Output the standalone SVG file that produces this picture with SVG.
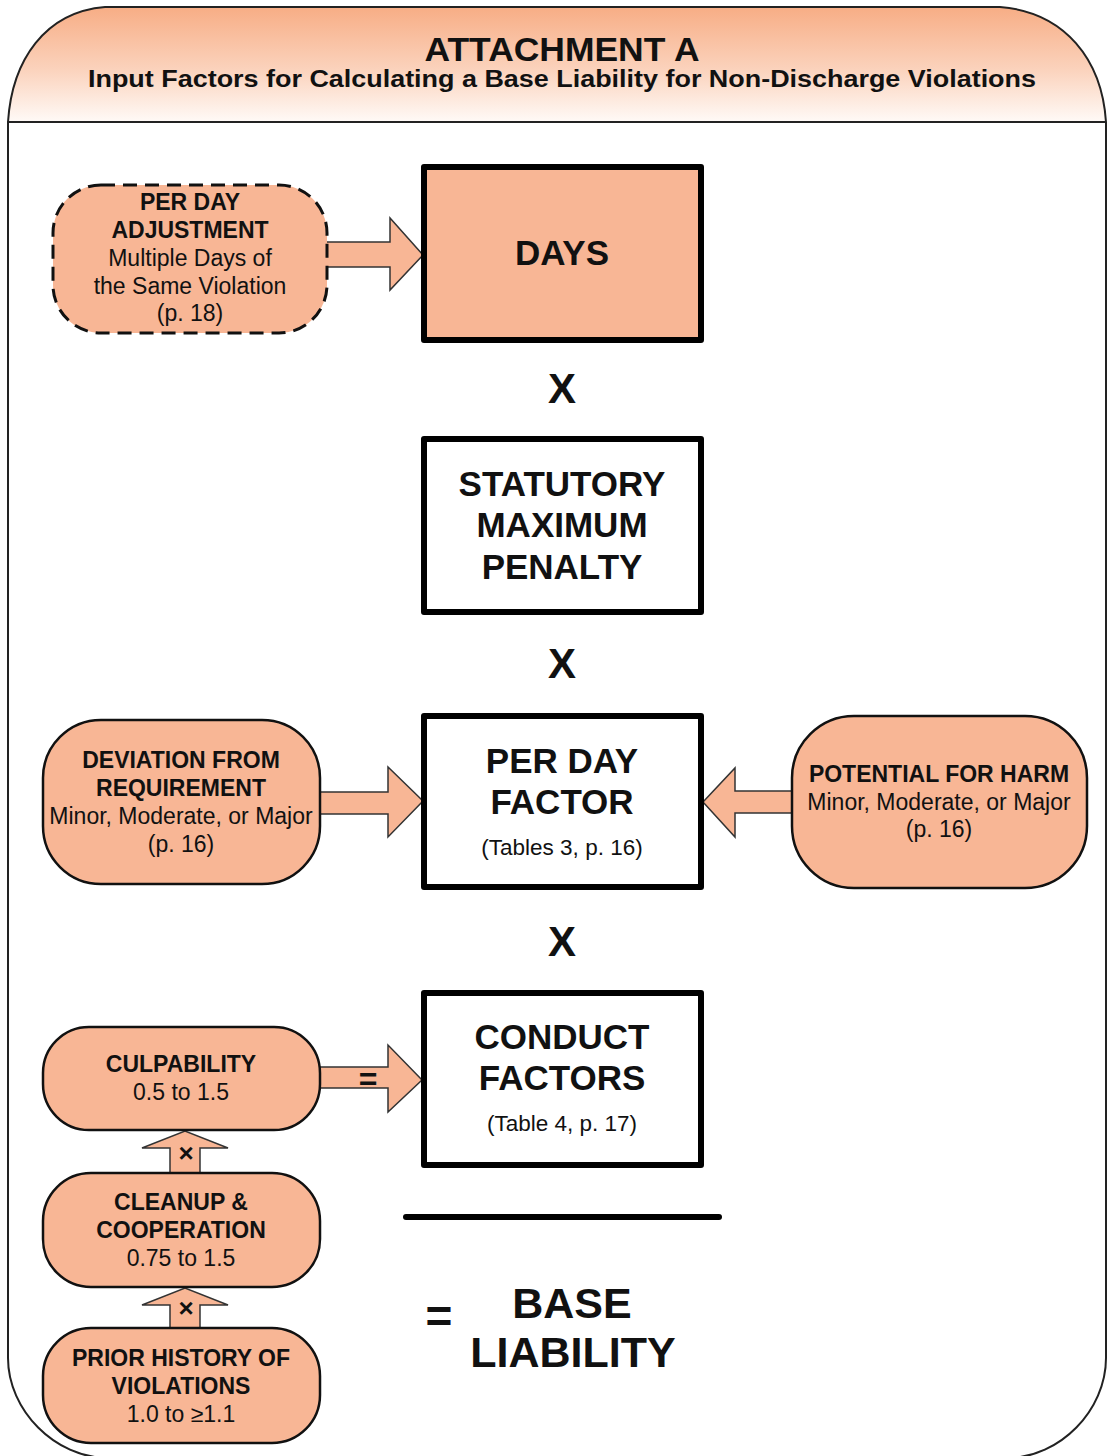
<svg xmlns="http://www.w3.org/2000/svg" width="1109" height="1456" viewBox="0 0 1109 1456">
<defs>
<linearGradient id="hdr" x1="0" y1="0" x2="0" y2="1">
<stop offset="0" stop-color="#f7ad85"/>
<stop offset="0.55" stop-color="#fbd3bd"/>
<stop offset="1" stop-color="#fffaf7"/>
</linearGradient>
<style>
text{font-family:"Liberation Sans",Arial,sans-serif;fill:#111;text-anchor:middle}
.b{font-weight:bold}
.nt{font-size:23px}
.bt{font-size:35px;font-weight:bold}
.sm{font-size:22.5px}
.x{font-size:42px;font-weight:bold}
.pill{fill:#f8b695;stroke:#111;stroke-width:2.5}
.dash{fill:#f8b695;stroke:#111;stroke-width:3;stroke-dasharray:14 8}
.box{fill:#fff;stroke:#000;stroke-width:6;stroke-linejoin:round}
.arr{fill:#f8b695;stroke:#333;stroke-width:1.5;stroke-linejoin:miter}
</style>
</defs>
<g id="frame">
<path d="M8 122 C12 60 45 12 105 7 L1000 7 C1065 12 1102 60 1106 122 Z" fill="url(#hdr)" stroke="none"/>
<path d="M8 1358 L8 122 C12 60 45 12 105 7 L1000 7 C1065 12 1102 60 1106 122 L1106 1358 C1106 1410 1060 1458 1007 1458 L108 1458 C55 1458 8 1410 8 1358 Z" fill="none" stroke="#222" stroke-width="2"/>
<line x1="8" y1="122" x2="1106" y2="122" stroke="#222" stroke-width="2"/>
<text class="b" x="562" y="61" font-size="34" textLength="275" lengthAdjust="spacingAndGlyphs">ATTACHMENT A</text>
<text class="b" x="562" y="87" font-size="23" textLength="948" lengthAdjust="spacingAndGlyphs">Input Factors for Calculating a Base Liability for Non-Discharge Violations</text>
</g>
<g id="connectors">
<polygon class="arr" points="325,242 390,242 390,218 423,255 390,290 390,267 325,267"/>
<polygon class="arr" points="320,792 388,792 388,767 423,801 388,837 388,814 320,814"/>
<polygon class="arr" points="792,791 735,791 735,768 703,802 735,837 735,813 792,813"/>
<polygon class="arr" points="320,1067 388,1067 388,1045 422,1080 388,1112 388,1088 320,1088"/>
<text class="b" x="368" y="1090" font-size="32">=</text>
<polygon class="arr" points="170,1173 170,1148 142,1148 185,1131 228,1148 200,1148 200,1173"/>
<text class="b" x="186" y="1162" font-size="26">×</text>
<polygon class="arr" points="170,1328 170,1305 142,1305 185,1288 228,1305 200,1305 200,1328"/>
<text class="b" x="186" y="1317" font-size="26">×</text>
</g>
<g id="per-day-adjustment">
<rect class="dash" x="53" y="185" width="274" height="148" rx="48"/>
<text class="nt b" x="190" y="210">PER DAY</text>
<text class="nt b" x="190" y="238">ADJUSTMENT</text>
<text class="nt" x="190" y="266">Multiple Days of</text>
<text class="nt" x="190" y="294">the Same Violation</text>
<text class="nt" x="190" y="321">(p. 18)</text>
</g>
<g id="days">
<rect class="box" x="424" y="167" width="277" height="173" style="fill:#f8b695"/>
<text class="bt" x="562" y="265">DAYS</text>
</g>
<text class="x" x="562" y="403">X</text>
<g id="statutory-maximum-penalty">
<rect class="box" x="424" y="439" width="277" height="173"/>
<text class="bt" x="562" y="496">STATUTORY</text>
<text class="bt" x="562" y="537">MAXIMUM</text>
<text class="bt" x="562" y="579">PENALTY</text>
</g>
<text class="x" x="562" y="678">X</text>
<g id="deviation-from-requirement">
<rect class="pill" x="43" y="720" width="277" height="164" rx="58"/>
<text class="nt b" x="181" y="768">DEVIATION FROM</text>
<text class="nt b" x="181" y="796">REQUIREMENT</text>
<text class="nt" x="181" y="824">Minor, Moderate, or Major</text>
<text class="nt" x="181" y="852">(p. 16)</text>
</g>
<g id="per-day-factor">
<rect class="box" x="424" y="716" width="277" height="171"/>
<text class="bt" x="562" y="773">PER DAY</text>
<text class="bt" x="562" y="814">FACTOR</text>
<text class="sm" x="562" y="855">(Tables 3, p. 16)</text>
</g>
<g id="potential-for-harm">
<rect class="pill" x="792" y="716" width="295" height="172" rx="62"/>
<text class="nt b" x="939" y="782">POTENTIAL FOR HARM</text>
<text class="nt" x="939" y="810">Minor, Moderate, or Major</text>
<text class="nt" x="939" y="837">(p. 16)</text>
</g>
<text class="x" x="562" y="956">X</text>
<g id="culpability">
<rect class="pill" x="43" y="1027" width="277" height="103" rx="46"/>
<text class="nt b" x="181" y="1072">CULPABILITY</text>
<text class="nt" x="181" y="1100">0.5 to 1.5</text>
</g>
<g id="conduct-factors">
<rect class="box" x="424" y="993" width="277" height="172"/>
<text class="bt" x="562" y="1049">CONDUCT</text>
<text class="bt" x="562" y="1090">FACTORS</text>
<text class="sm" x="562" y="1131">(Table 4, p. 17)</text>
</g>
<g id="cleanup-cooperation">
<rect class="pill" x="43" y="1173" width="277" height="114" rx="48"/>
<text class="nt b" x="181" y="1210">CLEANUP &amp;</text>
<text class="nt b" x="181" y="1238">COOPERATION</text>
<text class="nt" x="181" y="1266">0.75 to 1.5</text>
</g>
<g id="prior-history">
<rect class="pill" x="43" y="1328" width="277" height="115" rx="48"/>
<text class="nt b" x="181" y="1366">PRIOR HISTORY OF</text>
<text class="nt b" x="181" y="1394">VIOLATIONS</text>
<text class="nt" x="181" y="1422">1.0 to ≥1.1</text>
</g>
<g id="base-liability">
<line x1="406" y1="1217" x2="719" y2="1217" stroke="#000" stroke-width="6" stroke-linecap="round"/>
<text class="b" x="439" y="1332" font-size="46">=</text>
<text class="b" x="572" y="1318" font-size="43">BASE</text>
<text class="b" x="573" y="1367" font-size="43">LIABILITY</text>
</g>
</svg>
